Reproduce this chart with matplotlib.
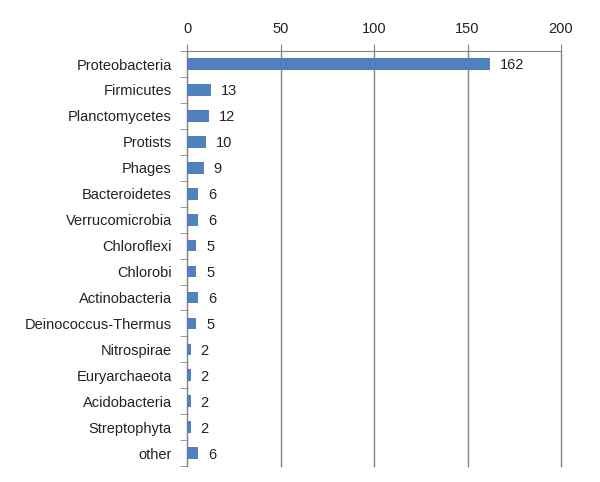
import numpy as np
import matplotlib.pyplot as plt

categories = ['Proteobacteria', 'Firmicutes', 'Planctomycetes', 'Protists', 'Phages',
              'Bacteroidetes', 'Verrucomicrobia', 'Chloroflexi', 'Chlorobi',
              'Actinobacteria', 'Deinococcus-Thermus', 'Nitrospirae', 'Euryarchaeota',
              'Acidobacteria', 'Streptophyta', 'other']
counts = [162, 13, 12, 10, 9, 6, 6, 5, 5, 6, 5, 2, 2, 2, 2, 6]
xticks = [0, 50, 100, 150, 200]

plt.rcParams['font.family'] = ['Liberation Sans', 'DejaVu Sans']

fig = plt.figure(figsize=(6, 4.82), dpi=100)
ax = fig.add_axes([0.3117, 0.033, 0.6233, 0.861])

y = np.arange(len(categories))
ax.barh(y, counts, height=0.45, color='#4F81BD', zorder=3)
for yi, v in zip(y, counts):
    ax.annotate(str(v), (v, yi), xytext=(7, -1), textcoords='offset points',
                va='center', ha='left', fontsize=10.5, color='#222222')

ax.set_xlim(0, 200)
ax.set_ylim(len(categories) - 0.5, -0.5)
ax.set_xticks(xticks)
ax.xaxis.tick_top()
ax.set_yticks(y)
ax.set_yticklabels(categories)
ax.set_yticks(np.arange(len(categories) + 1) - 0.5, minor=True)
ax.tick_params(axis='y', which='major', length=0, pad=11, labelsize=10.5, labelcolor='#222222')
ax.tick_params(axis='y', which='minor', length=5, color='#868686')
ax.tick_params(axis='x', length=5, color='#868686', labelsize=10.5, labelcolor='#222222', pad=6)

ax.grid(axis='x', color='#868686', linewidth=1, zorder=0)
for gl in ax.get_xgridlines():
    gl.set_clip_on(False)
for s in ['right', 'bottom']:
    ax.spines[s].set_visible(False)
for s in ['top', 'left']:
    ax.spines[s].set_color('#868686')

fig.savefig('out.png', dpi=100)
